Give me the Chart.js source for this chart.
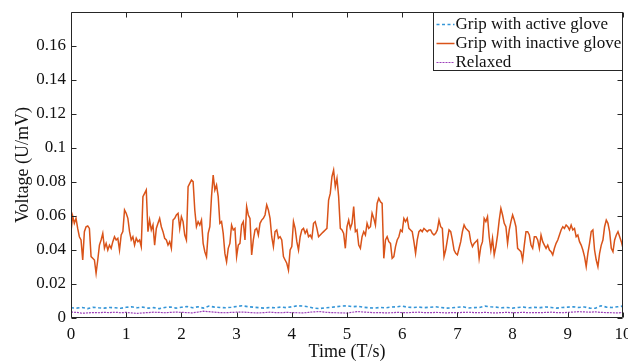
<!DOCTYPE html>
<html><head><meta charset="utf-8">
<script src="https://cdn.jsdelivr.net/npm/chart.js@4.4.1/dist/chart.umd.min.js"></script>
<style>html,body{margin:0;padding:0;background:#fff;}#wrap{width:628px;height:361px;}</style>
</head><body><div id="wrap"><canvas id="c" width="628" height="361"></canvas></div>
<script>
const seriesNames = ["Grip with active glove", "Grip with inactive glove", "Relaxed"];
const xTickValues = [0, 1, 2, 3, 4, 5, 6, 7, 8, 9, 10];
const yTickValues = [0, 0.02, 0.04, 0.06, 0.08, 0.1, 0.12, 0.14, 0.16];
const duration = 10;
const yMax = 0.18;

const inactiveGlove = [
0.0508,0.0600,0.0557,0.0586,0.0527,0.0478,0.0459,0.0341,0.0508,0.0537,0.0541,0.0527,0.0361,0.0351,0.0341,0.0263,0.0341,0.0429,0.0459,0.0498,0.0410,0.0439,0.0400,0.0429,0.0410,0.0449,0.0478,0.0459,0.0469,0.0400,0.0488,0.0508,0.0635,0.0616,0.0586,0.0508,0.0459,0.0478,0.0429,0.0469,0.0449,
0.0459,0.0420,0.0714,0.0733,0.0753,0.0508,0.0576,0.0518,0.0547,0.0429,0.0527,0.0557,0.0586,0.0537,0.0508,0.0469,0.0459,0.0429,0.0449,0.0410,0.0576,0.0586,0.0606,0.0616,0.0527,0.0596,0.0567,0.0488,0.0459,0.0772,0.0792,0.0812,0.0802,0.0635,0.0537,0.0567,0.0547,0.0576,0.0439,0.0390,0.0361,0.0498,
0.0537,0.0714,0.0841,0.0753,0.0782,0.0714,0.0557,0.0567,0.0498,0.0380,0.0331,0.0410,0.0439,0.0547,0.0518,0.0527,0.0361,0.0429,0.0439,0.0547,0.0567,0.0459,0.0655,0.0606,0.0586,0.0371,0.0459,0.0518,0.0527,0.0488,0.0557,0.0576,0.0586,0.0606,0.0665,0.0635,0.0586,0.0478,0.0420,0.0508,0.0518,0.0469,
0.0478,0.0459,0.0361,0.0341,0.0322,0.0282,0.0400,0.0420,0.0567,0.0527,0.0449,0.0400,0.0478,0.0518,0.0527,0.0498,0.0518,0.0478,0.0488,0.0469,0.0557,0.0567,0.0527,0.0478,0.0488,0.0498,0.0508,0.0518,0.0527,0.0694,0.0733,0.0831,0.0870,0.0772,0.0821,0.0714,0.0527,0.0518,0.0498,0.0410,0.0537,0.0576,
0.0527,0.0557,0.0655,0.0508,0.0518,0.0429,0.0410,0.0478,0.0508,0.0488,0.0557,0.0527,0.0537,0.0616,0.0586,0.0547,0.0674,0.0704,0.0684,0.0674,0.0351,0.0459,0.0478,0.0449,0.0439,0.0351,0.0361,0.0420,0.0459,0.0478,0.0518,0.0508,0.0586,0.0567,0.0586,0.0527,0.0518,0.0508,0.0449,0.0380,0.0459,0.0508,
0.0518,0.0508,0.0527,0.0518,0.0508,0.0518,0.0518,0.0498,0.0488,0.0498,0.0518,0.0576,0.0537,0.0527,0.0361,0.0400,0.0459,0.0518,0.0508,0.0459,0.0400,0.0380,0.0371,0.0410,0.0449,0.0508,0.0547,0.0527,0.0518,0.0508,0.0449,0.0420,0.0439,0.0449,0.0459,0.0351,0.0420,0.0449,0.0586,0.0567,0.0596,0.0478,0.0400,0.0469,0.0371,0.0420,0.0488,0.0576,0.0645,0.0606,0.0557,0.0537,0.0439,0.0518,0.0567,0.0606,0.0576,0.0537,0.0410,0.0400,0.0390,0.0341,0.0429,0.0508,0.0508,0.0488,0.0429,0.0410,0.0478,0.0478,0.0459,0.0410,0.0488,0.0449,0.0429,0.0410,0.0429,0.0400,0.0390,0.0371,0.0410,0.0439,0.0459,0.0488,0.0518,0.0537,0.0527,0.0547,0.0537,0.0518,0.0547,0.0518,0.0527,0.0478,0.0488,0.0449,0.0429,0.0400,0.0361,0.0302,0.0380,0.0439,0.0508,0.0518,0.0400,0.0341,0.0302,0.0380,0.0429,0.0459,0.0537,0.0576,0.0557,0.0508,0.0410,0.0390,0.0459,0.0488,0.0508,0.0478,0.0449,0.0410
];

const activeGlove = [
0.0060,0.0058,0.0062,0.0055,0.0063,0.0060,0.0058,0.0062,0.0060,0.0057,
0.0063,0.0066,0.0060,0.0064,0.0058,0.0061,0.0055,0.0062,0.0065,0.0058,
0.0063,0.0068,0.0060,0.0066,0.0058,0.0070,0.0064,0.0062,0.0060,0.0063,
0.0068,0.0072,0.0067,0.0064,0.0061,0.0058,0.0062,0.0060,0.0064,0.0061,
0.0066,0.0072,0.0070,0.0066,0.0058,0.0055,0.0060,0.0062,0.0066,0.0070,
0.0072,0.0066,0.0069,0.0063,0.0060,0.0058,0.0062,0.0060,0.0064,0.0066,
0.0070,0.0063,0.0062,0.0064,0.0061,0.0063,0.0066,0.0062,0.0058,0.0060,
0.0063,0.0066,0.0059,0.0061,0.0062,0.0070,0.0066,0.0064,0.0060,0.0062,
0.0058,0.0062,0.0064,0.0060,0.0063,0.0061,0.0065,0.0062,0.0058,0.0062,
0.0064,0.0066,0.0062,0.0065,0.0058,0.0057,0.0072,0.0064,0.0062,0.0066,0.0070
];

const relaxed = [
0.0035,0.0033,0.0028,0.0030,0.0032,0.0031,0.0033,0.0032,0.0034,0.0031,
0.0033,0.0030,0.0027,0.0030,0.0032,0.0034,0.0033,0.0031,0.0033,0.0035,
0.0033,0.0032,0.0030,0.0035,0.0040,0.0037,0.0034,0.0032,0.0031,0.0033,
0.0034,0.0035,0.0033,0.0031,0.0030,0.0032,0.0034,0.0032,0.0031,0.0033,
0.0032,0.0031,0.0030,0.0033,0.0036,0.0038,0.0034,0.0032,0.0031,0.0030,
0.0029,0.0034,0.0038,0.0035,0.0033,0.0031,0.0032,0.0030,0.0031,0.0033,
0.0032,0.0031,0.0033,0.0034,0.0032,0.0031,0.0033,0.0032,0.0030,0.0032,
0.0031,0.0033,0.0034,0.0032,0.0031,0.0033,0.0031,0.0030,0.0032,0.0033,
0.0031,0.0032,0.0033,0.0031,0.0032,0.0031,0.0033,0.0034,0.0032,0.0031,
0.0033,0.0035,0.0037,0.0036,0.0034,0.0036,0.0033,0.0032,0.0031,0.0030,0.0032
];

const seriesColors = ["#3596d8", "#d95319", "#9c3fba"];
const FONT = '"Liberation Serif", "Times New Roman", serif';
const INK = '#111111';

function toPoints(arr) {
  const n = arr.length;
  return arr.map((v, i) => ({ x: i * duration / (n - 1), y: v }));
}

const framePlugin = {
  id: 'frame',
  afterDraw(chart) {
    const ctx = chart.ctx;
    const { left, right, top, bottom } = chart.chartArea;
    const sx = chart.scales.x, sy = chart.scales.y;
    const L = Math.round(left) + 0.5, R = Math.round(right) - 0.5;
    const T = Math.round(top) + 0.5, B = Math.round(bottom) - 0.5;
    ctx.save();
    ctx.strokeStyle = '#262626';
    ctx.lineWidth = 1;
    ctx.beginPath();
    ctx.rect(L, T, R - L, B - T);
    const tl = 5;
    yTickValues.forEach(v => {
      const p = Math.round(sy.getPixelForValue(v)) + 0.5;
      ctx.moveTo(L, p); ctx.lineTo(L + tl, p);
      ctx.moveTo(R, p); ctx.lineTo(R - tl, p);
    });
    xTickValues.forEach(v => {
      const p = Math.round(sx.getPixelForValue(v)) + 0.5;
      ctx.moveTo(p, B); ctx.lineTo(p, B - tl);
      ctx.moveTo(p, T); ctx.lineTo(p, T + tl);
    });
    ctx.stroke();

    // legend box
    const bw = 189, bh = 58;
    const bx = R - bw, by = T;
    ctx.fillStyle = '#ffffff';
    ctx.fillRect(bx, by, bw, bh);
    ctx.strokeStyle = '#262626';
    ctx.strokeRect(bx, by, bw, bh);
    ctx.font = '17px ' + FONT;
    ctx.textBaseline = 'middle';
    ctx.textAlign = 'left';
    chart.data.datasets.forEach((ds, i) => {
      const cy = Math.round(by + 11 + i * 19) + 0.5;
      ctx.save();
      ctx.strokeStyle = ds.borderColor;
      ctx.lineWidth = ds.borderWidth;
      ctx.setLineDash(ds.borderDash || []);
      ctx.beginPath();
      ctx.moveTo(bx + 3, cy); ctx.lineTo(bx + 21, cy);
      ctx.stroke();
      ctx.restore();
      ctx.fillStyle = INK;
      ctx.fillText(ds.label, bx + 22, cy);
    });
    ctx.restore();
  }
};

new Chart(document.getElementById('c'), {
  type: 'line',
  data: {
    datasets: [
      { label: seriesNames[0], data: toPoints(activeGlove), borderColor: seriesColors[0], borderWidth: 1.6, borderDash: [3, 2.5] },
      { label: seriesNames[1], data: toPoints(inactiveGlove), borderColor: seriesColors[1], borderWidth: 1.5 },
      { label: seriesNames[2], data: toPoints(relaxed), borderColor: seriesColors[2], borderWidth: 1.2, borderDash: [2, 1] }
    ]
  },
  options: {
    responsive: false,
    animation: false,
    events: [],
    elements: { point: { radius: 0 }, line: { tension: 0, fill: false } },
    layout: { padding: { left: 0, right: 5, top: 12, bottom: 0 } },
    plugins: { legend: { display: false }, tooltip: { enabled: false } },
    scales: {
      x: {
        type: 'linear', min: 0, max: duration,
        grid: { display: false, drawTicks: false }, border: { display: false },
        ticks: { stepSize: 1, autoSkip: false, maxRotation: 0, padding: 6, color: INK, font: { family: FONT, size: 17 } },
        afterBuildTicks(scale) { scale.ticks = xTickValues.map(v => ({ value: v })); },
        afterFit(scale) { scale.height = 43; scale.paddingLeft = 0; scale.paddingRight = 0; },
        title: { display: true, text: 'Time (T/s)', color: INK, font: { family: FONT, size: 18, lineHeight: 1 }, padding: { top: 0, bottom: 0 } }
      },
      y: {
        type: 'linear', min: 0, max: yMax,
        grid: { display: false, drawTicks: false }, border: { display: false },
        ticks: { padding: 5, color: INK, font: { family: FONT, size: 17 },
          callback: v => String(+v.toFixed(2)) },
        afterBuildTicks(scale) { scale.ticks = yTickValues.map(v => ({ value: v })); },
        afterFit(scale) { scale.width = 71; scale.paddingTop = 0; scale.paddingBottom = 0; },
        title: { display: true, text: 'Voltage (U/mV)', color: INK, font: { family: FONT, size: 18, lineHeight: 1 }, padding: { top: 14, bottom: 0 } }
      }
    }
  },
  plugins: [framePlugin]
});
</script>
</body></html>
